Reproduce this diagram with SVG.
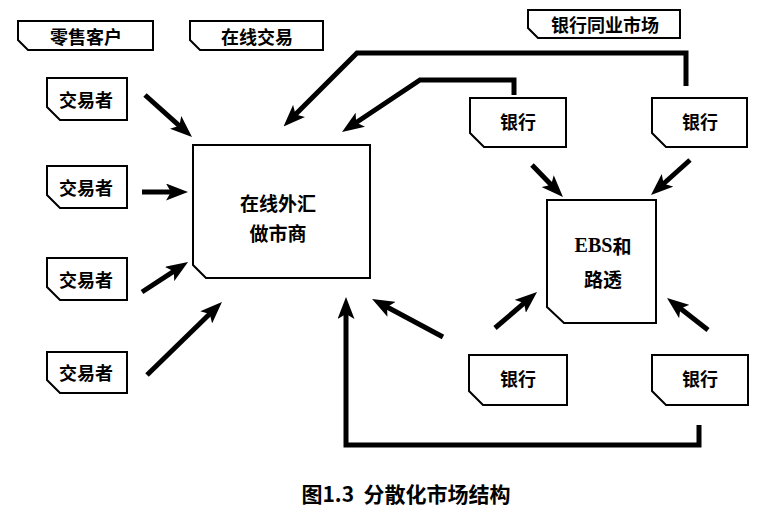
<svg xmlns="http://www.w3.org/2000/svg" width="777" height="515" viewBox="0 0 777 515">
<style>
.box{fill:#fff;stroke:#000;stroke-width:2;stroke-linejoin:miter}
.t{font-family:"Noto Sans CJK SC","Liberation Sans",sans-serif;font-weight:bold;font-size:18px;fill:#000;text-anchor:middle;dominant-baseline:central}
.big{font-size:19px}
.ebs{font-family:"Liberation Serif",serif;font-size:20px}
.c{fill:none;stroke:#000;stroke-width:5;stroke-linecap:butt;stroke-linejoin:miter;marker-end:url(#ah)}
.title{font-family:"Noto Sans CJK SC","Liberation Sans",sans-serif;font-weight:bold;font-size:21px;fill:#000;text-anchor:middle;dominant-baseline:central;white-space:pre}
</style>
<defs>
<marker id="ah" viewBox="0 0 22 17" refX="13" refY="8.5" markerWidth="22" markerHeight="17" markerUnits="userSpaceOnUse" orient="auto">
<path d="M0,0 L22,8.5 L0,17 L5,8.5 z" fill="#000"/>
</marker>
</defs>
<rect width="777" height="515" fill="#fff"/>

<g id="label-retail">
<path class="box" d="M18,21 H153 V50 H28 L18,40 Z"/>
<text class="t" x="86" y="36">零售客户</text>
</g>
<g id="label-online">
<path class="box" d="M190,21 H323 V50 H200 L190,40 Z"/>
<text class="t" x="257" y="36">在线交易</text>
</g>
<g id="label-interbank">
<path class="box" d="M528,10 H680 V38 H538 L528,28 Z"/>
<text class="t" x="605" y="24">银行同业市场</text>
</g>

<g id="trader1">
<path class="box" d="M47,78 H127 V120 H60 L47,107 Z"/>
<text class="t" x="86" y="99">交易者</text>
</g>
<g id="trader2">
<path class="box" d="M47,166 H127 V208 H60 L47,195 Z"/>
<text class="t" x="86" y="187">交易者</text>
</g>
<g id="trader3">
<path class="box" d="M47,258 H127 V300 H60 L47,287 Z"/>
<text class="t" x="86" y="279">交易者</text>
</g>
<g id="trader4">
<path class="box" d="M47,352 H127 V393 H60 L47,380 Z"/>
<text class="t" x="86" y="372">交易者</text>
</g>

<g id="market-maker">
<path class="box" d="M193,145 H370 V278 H206 L193,265 Z"/>
<text class="t big" x="278" y="202">在线外汇</text>
<text class="t big" x="278" y="232">做市商</text>
</g>

<g id="ebs">
<path class="box" d="M547,200 H656 V323 H564 L547,307 Z"/>
<text class="t big" x="603" y="245"><tspan class="ebs">EBS</tspan>和</text>
<text class="t big" x="603" y="278">路透</text>
</g>

<g id="bank1">
<path class="box" d="M470,98 H566 V147 H484 L470,133 Z"/>
<text class="t" x="518" y="121">银行</text>
</g>
<g id="bank2">
<path class="box" d="M652,98 H747 V147 H666 L652,133 Z"/>
<text class="t" x="700" y="121">银行</text>
</g>
<g id="bank3">
<path class="box" d="M469,355 H567 V405 H483 L469,391 Z"/>
<text class="t" x="518" y="378">银行</text>
</g>
<g id="bank4">
<path class="box" d="M652,355 H748 V405 H666 L652,391 Z"/>
<text class="t" x="700" y="378">银行</text>
</g>

<g id="connectors">
<line class="c" x1="145" y1="95" x2="185.3" y2="131.1"/>
<line class="c" x1="142" y1="192" x2="179" y2="192"/>
<line class="c" x1="142" y1="292" x2="180.5" y2="266.9"/>
<line class="c" x1="147" y1="375" x2="215.5" y2="308.3"/>
<polyline class="c" points="686,86 686,53 357,53 289.9,120.1"/>
<polyline class="c" points="514,95 514,80 420,80 349.5,127"/>
<line class="c" x1="532" y1="165" x2="556.7" y2="190.5"/>
<line class="c" x1="690" y1="160" x2="657.7" y2="189"/>
<line class="c" x1="443" y1="337" x2="380" y2="303.2"/>
<line class="c" x1="495" y1="328" x2="530.2" y2="297.9"/>
<line class="c" x1="708" y1="330" x2="674.1" y2="303.5"/>
<polyline class="c" points="699,425 699,445 346,445 346,306"/>
</g>

<text class="title" x="406" y="493">图1.3  分散化市场结构</text>
</svg>
